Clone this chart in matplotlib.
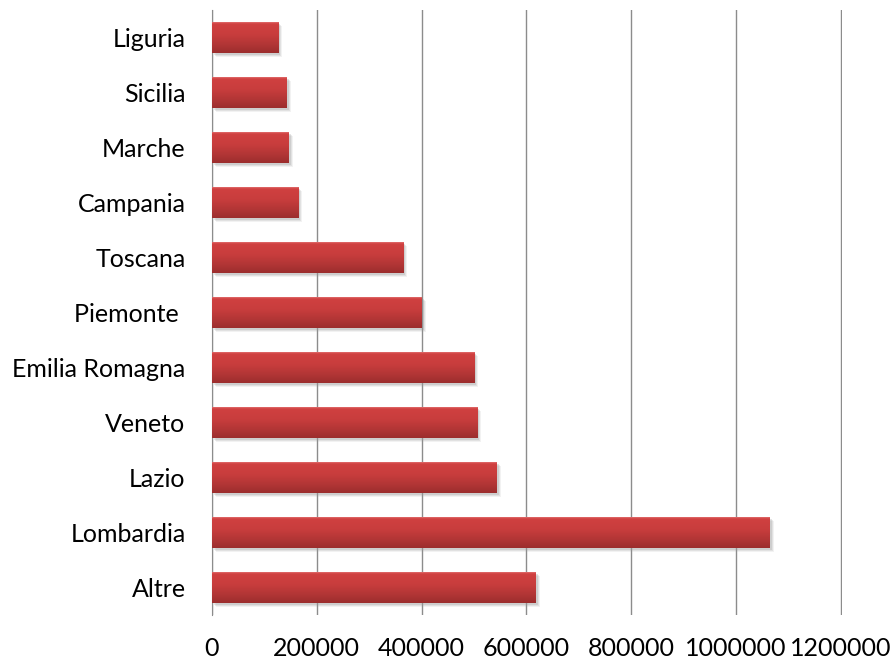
import matplotlib.pyplot as plt
import matplotlib.transforms as mtransforms
from matplotlib.colors import LinearSegmentedColormap
import numpy as np

plt.rcParams['font.family'] = ['Lato', 'DejaVu Sans']

# regioni dal basso verso l'alto
regioni = ['Altre', 'Lombardia', 'Lazio', 'Veneto', 'Emilia Romagna', 'Piemonte ',
           'Toscana', 'Campania', 'Marche', 'Sicilia', 'Liguria']
valori = [618000, 1064000, 543500, 506000, 500400, 400000,
          364500, 164700, 146600, 142200, 126300]
xticks = [0, 200000, 400000, 600000, 800000, 1000000, 1200000]

fig = plt.figure(figsize=(8.91, 6.61), dpi=100)
ax = fig.add_axes([0.2379, 0.0696, 0.7071, 0.9153])

y = np.arange(len(regioni))
h = 0.56

# ombra morbida
for off, a in [(4, 0.12), (3, 0.18), (2, 0.25)]:
    shadow = mtransforms.offset_copy(ax.transData, fig=fig, x=off, y=-off, units='dots')
    ax.barh(y, valori, height=h, color='#999999', alpha=a, transform=shadow, zorder=2)

bars = ax.barh(y, valori, height=h, color='#c03a3a', edgecolor='none', zorder=3)

# gradiente verticale su ogni barra (chiaro in alto, scuro in basso)
grad = np.linspace(0, 1, 64).reshape(-1, 1)
cmap = LinearSegmentedColormap.from_list(
    'rosso', [(0, '#e06a6a'), (0.05, '#d04040'), (0.4, '#c83d3d'), (0.75, '#b03535'), (1, '#9c2d2d')])
for b in bars:
    x0, y0 = b.get_x(), b.get_y()
    im = ax.imshow(grad, cmap=cmap, aspect='auto', zorder=4,
                   extent=[x0, x0 + b.get_width(), y0, y0 + b.get_height()],
                   interpolation='bilinear')
    im.set_clip_path(b)

ax.set_xlim(0, 1202000)
ax.set_ylim(-0.5, len(regioni) - 0.5)
ax.set_xticks(xticks)
ax.set_xticklabels([str(v) for v in xticks])
ax.set_yticks(y)
ax.set_yticklabels(regioni)

ax.xaxis.grid(True, color='#8c8c8c', linewidth=1)
ax.set_axisbelow(True)
for s in ['top', 'right', 'bottom']:
    ax.spines[s].set_visible(False)
ax.spines['left'].set_color('#8c8c8c')
ax.tick_params(axis='both', length=0, labelsize=18, colors='black')
ax.tick_params(axis='x', pad=16)
ax.tick_params(axis='y', pad=19)

fig.savefig('out.png', dpi=100)
